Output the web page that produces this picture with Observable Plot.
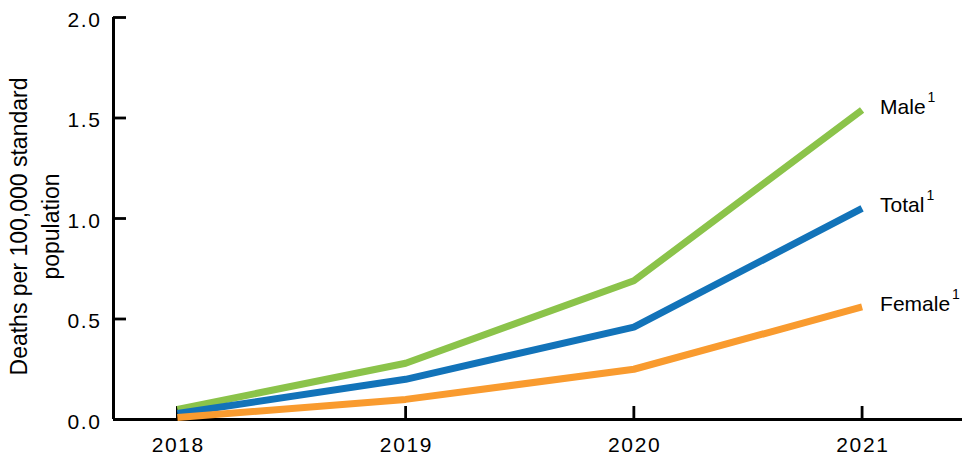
<!DOCTYPE html>
<html>
<head>
<meta charset="utf-8">
<script src="https://cdn.jsdelivr.net/npm/d3@7"></script>
<script src="https://cdn.jsdelivr.net/npm/@observablehq/plot@0.6"></script>
<style>
  html, body { margin: 0; padding: 0; background: #fff; }
  #chart { width: 968px; height: 461px; }
  svg { font-family: "Liberation Sans", Arial, sans-serif; }
</style>
</head>
<body>
<div id="chart"></div>
<script>
const years = [2018, 2019, 2020, 2021];
const male = [0.05, 0.28, 0.69, 1.54];
const total = [0.03, 0.20, 0.46, 1.05];
const female = [0.01, 0.10, 0.25, 0.56];
const seriesNames = ["Male", "Total", "Female"];
const seriesColors = ["#8bc34a", "#1273b9", "#f99b2f"];
const yTicks = [0, 0.5, 1.0, 1.5, 2.0];
const yLabelLines = ["Deaths per 100,000 standard", "population"];
const xDomain = [2017.72, 2021.44];
const yDomain = [0, 2];

const W = 968, H = 461, ML = 113, MR = 6, MT = 17, MB = 42;
const tickPx = 13;
// inward tick length expressed in each scale's units
const xTickLen = tickPx * (xDomain[1] - xDomain[0]) / (W - ML - MR);
const yTickLen = tickPx * (yDomain[1] - yDomain[0]) / (H - MT - MB);

const seriesValues = [male, total, female];
const rows = [];
seriesNames.forEach((name, s) => {
  years.forEach((yr, i) => rows.push({series: name, year: yr, value: seriesValues[s][i]}));
});
const lastRows = seriesNames.map((name, s) => ({series: name, year: years[years.length - 1], value: seriesValues[s][years.length - 1]}));

const chart = Plot.plot({
  width: W, height: H, marginLeft: ML, marginRight: MR, marginTop: MT, marginBottom: MB,
  style: {fontFamily: '"Liberation Sans", Arial, sans-serif', fontSize: "21px", color: "#000", background: "#fff"},
  x: {type: "linear", domain: xDomain},
  y: {domain: yDomain},
  color: {domain: seriesNames, range: seriesColors},
  marks: [
    Plot.axisX({ticks: years, tickFormat: d => String(d), tickSize: 0, tickPadding: 18, fontSize: 21, fill: "#000", label: null, dx: 0.8}),
    Plot.axisY({ticks: yTicks, tickFormat: d => d.toFixed(1), tickSize: 0, tickPadding: 12, fontSize: 21, dy: 2.5, fill: "#000", label: null}),
    // inward tick marks
    Plot.ruleX(years, {x: d => d, y1: yDomain[0], y2: yDomain[0] + yTickLen, stroke: "#000", strokeWidth: 2.8}),
    Plot.ruleY(yTicks, {y: d => d, x1: xDomain[0], x2: xDomain[0] + xTickLen, stroke: "#000", strokeWidth: 2.8}),
    // axis lines
    Plot.ruleY([yDomain[0]], {stroke: "#000", strokeWidth: 3}),
    Plot.ruleX([xDomain[0]], {stroke: "#000", strokeWidth: 3}),
    Plot.line(rows, {x: "year", y: "value", z: "series", stroke: "series", strokeWidth: 7, strokeLinecap: "butt", strokeLinejoin: "miter"}),
    Plot.text(lastRows, {x: "year", y: "value", text: d => d.series + "¹", textAnchor: "start", dx: 18, dy: -3, fontSize: 21, fill: "#000"}),
    Plot.text([yLabelLines.join("\n")], {frameAnchor: "left", rotate: -90, dx: -81, dy: 8, fontSize: 23, lineHeight: 1.4, fill: "#000", textAnchor: "middle", lineAnchor: "middle"})
  ]
});

// letter spacing on tick labels
d3.select(chart).selectAll('g[aria-label="x-axis tick label"] text, g[aria-label="y-axis tick label"] text')
  .attr("letter-spacing", "1.6px");

// render superscripts as raised, smaller tspans
d3.select(chart).selectAll("text").each(function() {
  const t = this.textContent;
  if (t.endsWith("¹") && this.childNodes.length === 1) {
    const base = t.slice(0, -1);
    const sel = d3.select(this);
    sel.text(null);
    sel.append("tspan").text(base);
    sel.append("tspan").attr("font-size", "14px").attr("dx", "2").attr("dy", "-12").text("1");
  }
});

document.getElementById("chart").appendChild(chart);
</script>
</body>
</html>
